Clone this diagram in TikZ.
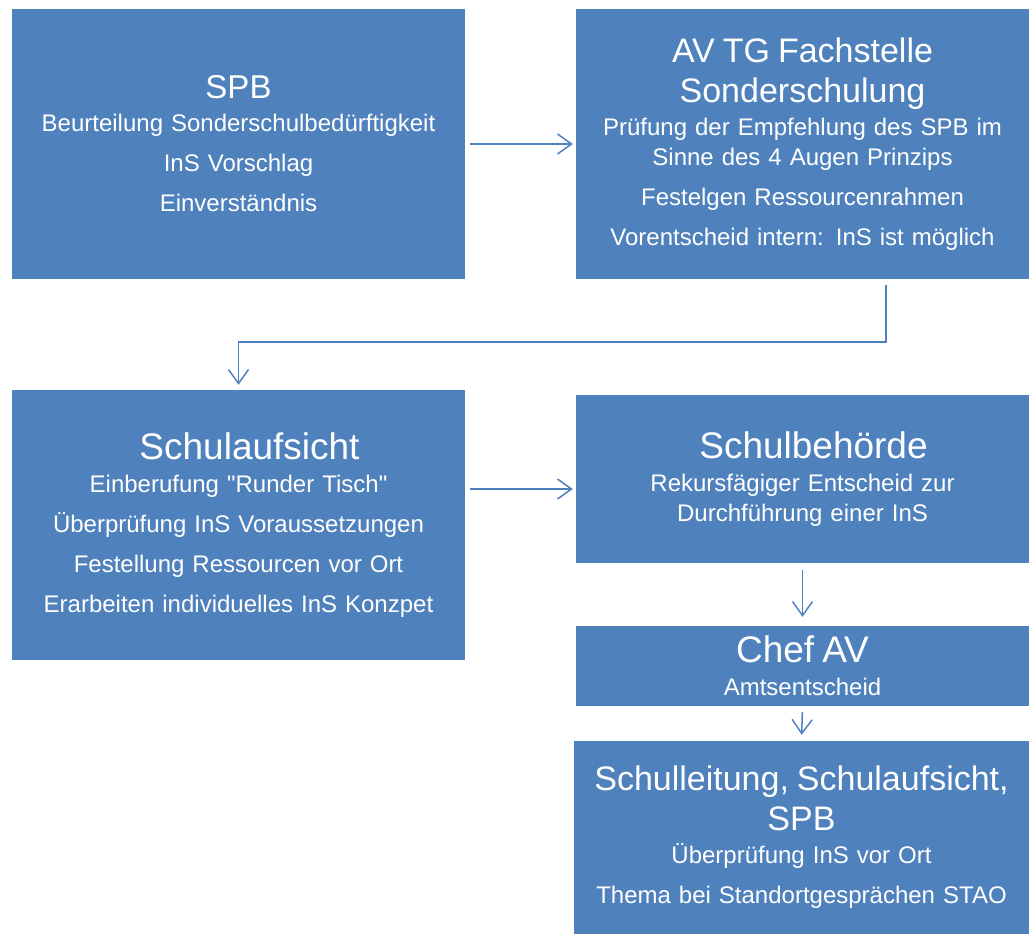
\documentclass[tikz,border=0pt]{standalone}
\usepackage{fontspec}
\setmainfont{Liberation Sans}
\usetikzlibrary{arrows.meta}
\definecolor{stageblue}{HTML}{4F81BD}
\setlength{\parindent}{0pt}
\setlength{\parskip}{0pt}
\newcommand{\stagehead}[2]{{\fontsize{#1}{40}\selectfont #2\par}\vspace{3pt}}
\newcommand{\nextitem}{\par\vspace{10pt}}

\begin{document}
\begin{tikzpicture}[x=1pt,y=-1pt,
	stage/.style={fill=stageblue, text=white, inner sep=0pt, minimum width=453pt,
		text width=445pt, align=center, font=\fontsize{24}{30}\selectfont},
	flow/.style={draw=stageblue, line width=1.5pt, -{Straight Barb[length=14pt,width=20pt]}}]
	\useasboundingbox (0,0) rectangle (1029,934);
	\node[stage, minimum height=270pt] (spb) at (238.5,144) {\stagehead{33}{SPB}Beurteilung Sonderschulbedürftigkeit\nextitem InS Vorschlag\nextitem Einverständnis};
	\node[stage, minimum height=270pt] (avtg) at (802.5,144) {\stagehead{34}{AV TG Fachstelle\par Sonderschulung}Prüfung der Empfehlung des SPB im\par Sinne des 4 Augen Prinzips\nextitem Festelgen Ressourcenrahmen\nextitem Vorentscheid intern: InS ist möglich};
	\node[stage, minimum height=270pt] (aufsicht) at (238.5,525) {\stagehead{37}{\hspace*{22pt}Schulaufsicht}Einberufung \textquotedbl Runder Tisch\textquotedbl\nextitem Überprüfung InS Voraussetzungen\nextitem Festellung Ressourcen vor Ort\nextitem Erarbeiten individuelles InS Konzpet};
	\node[stage, minimum height=168pt] (behoerde) at (802.5,479) {\stagehead{37}{\hspace*{22pt}Schulbehörde}Rekursfägiger Entscheid zur\par Durchführung einer InS};
	\node[stage, minimum height=80pt] (chef) at (802.5,666) {\stagehead{37}{Chef AV}Amtsentscheid};
	\node[stage, minimum height=193pt, minimum width=455pt] (leitung) at (801.5,837.5) {\stagehead{34}{Schulleitung, Schulaufsicht,\par SPB}Überprüfung InS vor Ort\nextitem Thema bei Standortgesprächen STAO};
	\coordinate (behoerdein) at ([yshift=-10pt]behoerde.west);
	\draw[flow, shorten <=5pt, shorten >=3pt] (spb.east |- avtg.west) -- (avtg.west);
	\draw[flow, shorten <=6pt, shorten >=5pt] ([xshift=83.5pt]avtg.south) -- ++(0,63) -| (aufsicht.north);
	\draw[flow, shorten <=5pt, shorten >=3pt] (aufsicht.east |- behoerdein) -- (behoerdein);
	\draw[flow, shorten <=7pt, shorten >=9pt] (behoerde.south) -- (chef.north);
	\draw[flow, shorten <=6pt, shorten >=6pt] (chef.south) -- (leitung.north);
\end{tikzpicture}
\end{document}
